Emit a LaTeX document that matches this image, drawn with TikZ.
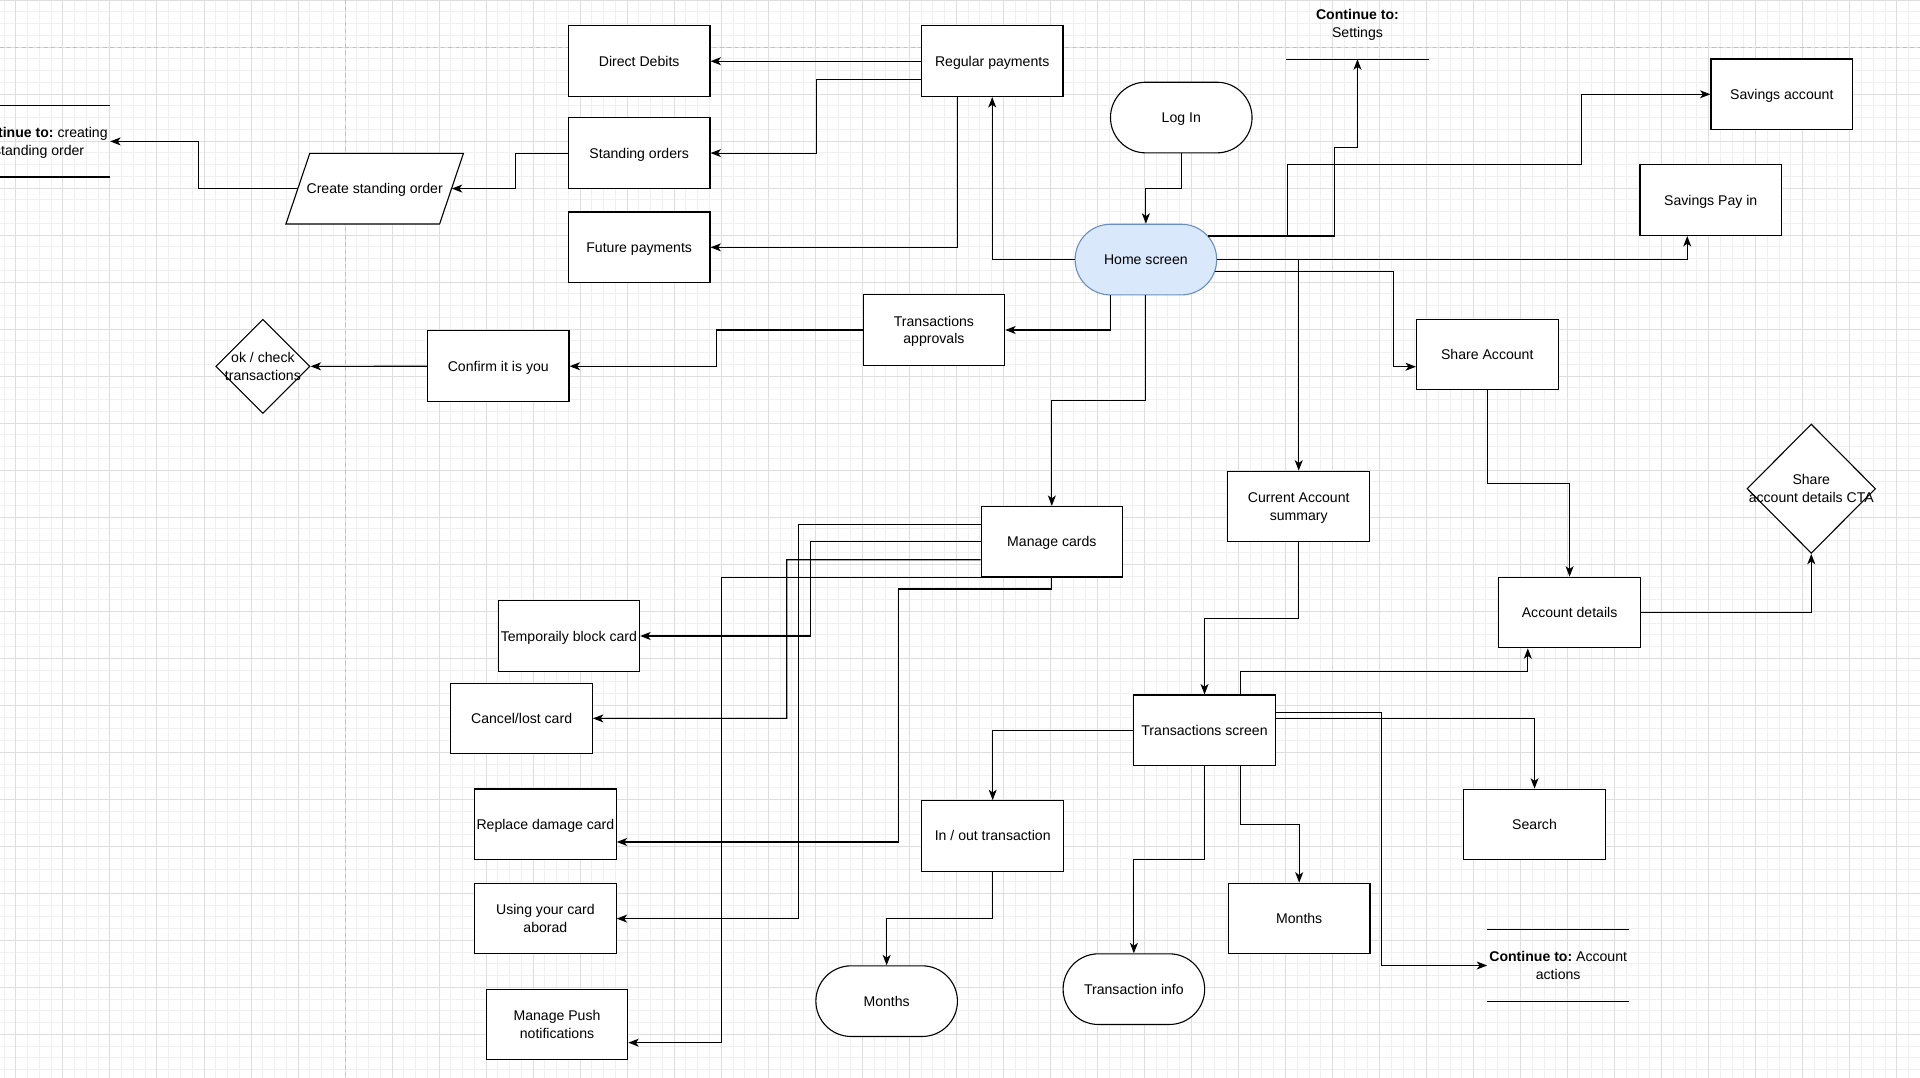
\documentclass[tikz,border=0pt]{standalone}
\usepackage{fontspec}
\setmainfont{Liberation Sans}
\usetikzlibrary{arrows.meta,shapes.geometric}
\definecolor{hsfill}{HTML}{DAE8FC}
\definecolor{hsline}{HTML}{6C8EBF}
\definecolor{gmin}{HTML}{F0F0F0}
\definecolor{gmaj}{HTML}{DEDEDE}
\definecolor{gdash}{HTML}{C0C0C0}
\newcommand{\srt}{\rule[-3.1pt]{0pt}{14.4pt}}
\frenchspacing
\begin{document}
\frenchspacing
\begin{tikzpicture}[x=1pt,y=-1pt,
  every node/.style={font=\fontsize{11.5}{14.4}\selectfont\frenchspacing, inner sep=0pt, align=center},
  box/.style={draw, line width=0.9pt, fill=white, minimum width=115.6pt, minimum height=57.7pt},
  stad/.style={box, rounded corners=28.8pt},
  hs/.style={stad, fill=hsfill, draw=hsline},
  free/.style={minimum width=115.6pt, minimum height=57.7pt},
  dia/.style={diamond, draw, line width=0.9pt, fill=white, aspect=1},
  shapeline/.style={line width=0.9pt},
  conn/.style={line width=0.9pt, -{Stealth[length=8.5pt,width=6.5pt,inset=2.3pt]}},
  gridmin/.style={gmin, line width=0.8pt},
  gridmaj/.style={gmaj, line width=0.8pt},
  pageline/.style={gdash, line width=0.8pt, dash pattern=on 3pt off 3pt}
]
\useasboundingbox (0,0) rectangle (1568,879.6);
\clip (0,0) rectangle (1568,879.6);
\fill[white] (0,0) rectangle (1568,879.6);
% grid
\foreach \i in {0,...,163} \draw[gridmin] ({3.4+\i*9.6},0) -- ++(0,880);
\foreach \j in {0,...,92} \draw[gridmin] (0,{\j*9.6}) -- ++(1568,0);
\foreach \i in {0,...,40} \draw[gridmaj] ({13+\i*38.4},0) -- ++(0,880);
\foreach \j in {0,...,22} \draw[gridmaj] (0,{\j*38.4}) -- ++(1568,0);
\draw[pageline] (0,38.4) -- (1568,38.4);
\draw[pageline] (281.8,0) -- (281.8,880);

% nodes
\node[box] (dd) at (522,50) {\srt Direct Debits};
\node[box] (rp) at (810.3,50) {\srt Regular payments};
\node[box] (so) at (522,125) {\srt Standing orders};
\node[box] (fp) at (522,202) {\srt Future payments};
\draw[shapeline, fill=white] (253,125.2) -- (378.5,125.2) -- (359,182.9) -- (233.5,182.9) -- cycle;
\node[free, minimum width=125.6pt] (cso) at (306,154) {\srt Create standing order};
\node[free] (cont1) at (32,115.5) {\srt\textbf{Continue to:} creating\\\srt standing order};
\draw[shapeline] (cont1.north west) -- (cont1.north east);
\draw[shapeline] (cont1.south west) -- (cont1.south east);
\node[stad] (login) at (964.7,96) {\srt Log In};
\node[hs] (home) at (935.8,212) {\srt Home screen};
\node[free] (cont2) at (1108.6,19.4) {\srt\textbf{Continue to:}\\\srt Settings};
\draw[shapeline] (cont2.north west) -- (cont2.north east);
\draw[shapeline] (cont2.south west) -- (cont2.south east);
\node[box] (sav) at (1455.1,77) {\srt Savings account};
\node[box] (spi) at (1397.1,163.5) {\srt Savings Pay in};
\node[box] (sha) at (1214.6,289.6) {\srt Share Account};
\node[box] (ta) at (762.7,269.5) {\srt Transactions\\\srt approvals};
\node[box] (ciy) at (406.9,299.1) {\srt Confirm it is you};
\node[dia, minimum width=77pt, minimum height=77pt] (okc) at (214.7,299.2) {};
\node[free] (okct) at (okc) {\srt ok / check\\\srt transactions};
\node[box] (mc) at (859,442.4) {\srt Manage cards};
\node[box] (tbc) at (464.6,519.4) {\srt Temporaily block card};
\node[box] (clc) at (426,586.7) {\srt Cancel/lost card};
\node[box] (rdc) at (445.4,673.2) {\srt Replace damage card};
\node[box] (uyc) at (445.4,750.2) {\srt Using your card\\\srt aborad};
\node[box] (mpn) at (454.9,836.7) {\srt Manage Push\\\srt notifications};
\node[box] (io) at (810.7,682.7) {\srt In / out transaction};
\node[stad] (mo1) at (724.1,817.6) {\srt Months};
\node[stad] (ti) at (926,807.8) {\srt Transaction info};
\node[box] (cas) at (1060.6,413.6) {\srt Current Account\\\srt summary};
\node[box] (ad) at (1281.8,500.2) {\srt Account details};
\node[dia, minimum width=105pt, minimum height=105.6pt] (cta) at (1479.2,399.1) {};
\node[free] (ctat) at (cta) {\srt Share\\\srt account details CTA};
\node[box] (ts) at (983.7,596.4) {\srt Transactions screen};
\node[box] (se) at (1253.2,673.3) {\srt Search};
\node[box] (mo2) at (1061,750.1) {\srt Months};
\node[free] (cont3) at (1272.5,788.5) {\srt\textbf{Continue to:} Account\\\srt actions};
\draw[shapeline] (cont3.north west) -- (cont3.north east);
\draw[shapeline] (cont3.south west) -- (cont3.south east);

% connectors
\draw[conn] (rp.west) -- (dd.east);
\draw[conn] ([yshift=-14.8pt]rp.west) -- (666.7,64.8) |- (so.east);
\draw[conn] ([xshift=-28.3pt]rp.south) |- (fp.east);
\draw[conn] (home.west) -| (rp.south);
\draw[conn] (so.west) -- (421,125) |- (cso.east);
\draw[conn] (cso.west) -- (162,154) |- (cont1.east);
\draw[conn] (login.south) -- (964.7,153.8) -| (home.north);
\draw[conn] ([xshift=-28.8pt]home.south) |- (ta.east);
\draw[conn] (ta.west) -- (585,269.5) |- (ciy.east);
\draw[conn] (ciy.west) -- (okc.east);
\draw[conn] (home.south) -- (935.8,327.2) -| (mc.north);
\draw[conn] ([xshift=-7.4pt,yshift=19.3pt]home.east) -- (1051.3,192.7) -- (1051.3,134.5) -- (1291.3,134.5) |- (sav.west);
\draw[conn] ([xshift=-7.4pt,yshift=19.3pt]home.east) -- (1089.6,192.7) -- (1089.6,120.2) -| (cont2.south);
\draw[conn] (home.east) -| ([xshift=-19.2pt]spi.south);
\draw[conn] (home.east) -| (cas.north);
\draw[conn] ([xshift=-1.6pt,yshift=-9.6pt]home.east) -- (1137.9,221.6) |- ([yshift=-9.9pt]sha.west);
\draw[conn] (sha.south) -- (1214.6,394.7) -| (ad.north);
\draw[conn] (ad.east) -| (cta.south);
\draw[conn] (cas.south) -- (1060.6,505) -| (ts.north);
\draw[conn] ([xshift=29.1pt]ts.north) -- (1012.8,548.5) -| ([xshift=-34.1pt]ad.south);
\draw[conn] ([yshift=9.8pt]ts.east) -| (se.north);
\draw[conn] ([yshift=14.4pt]ts.east) -- (1128.1,582) |- (cont3.west);
\draw[conn] (ts.west) -| (io.north);
\draw[conn] ([xshift=29.1pt]ts.south) -- (1012.8,673.2) -| (mo2.north);
\draw[conn] (ts.south) -- (983.7,702) -| (ti.north);
\draw[conn] (io.south) -- (810.7,750.2) -| (mo1.north);
\draw[conn] ([yshift=14.2pt]mc.west) -- (652,428.2) |- (uyc.east);
\draw[conn] (mc.west) -- (661.9,442.4) |- (tbc.east);
\draw[conn] ([yshift=-14.7pt]mc.west) -- (642.5,457.1) |- (clc.east);
\draw[conn] ([xshift=-29.6pt]mc.south) -| (589.5,800) |- ([yshift=-14.8pt]mpn.east);
\draw[conn] (mc.south) -- (859,481) -- (734,481) |- ([yshift=-14.4pt]rdc.east);
\end{tikzpicture}
\end{document}
